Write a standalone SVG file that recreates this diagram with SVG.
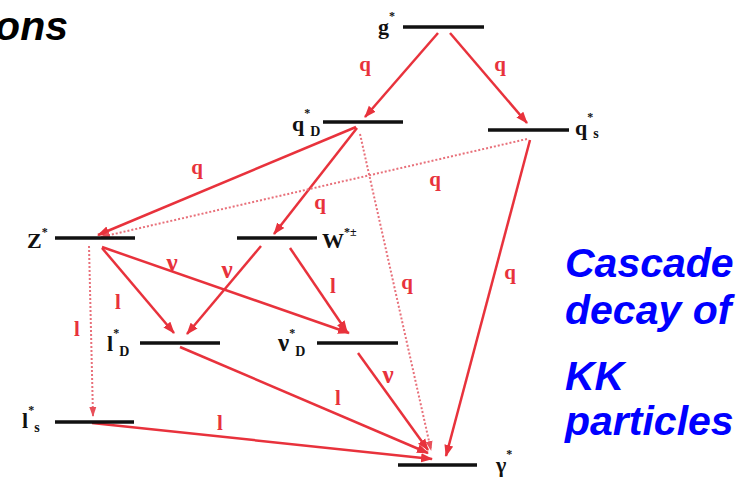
<svg xmlns="http://www.w3.org/2000/svg" width="754" height="481" viewBox="0 0 754 481">
<defs>
<marker id="ah" markerWidth="12" markerHeight="10" refX="11" refY="5" orient="auto" markerUnits="userSpaceOnUse"><path d="M0,0.5 L12,5 L0,9.5 z" fill="#e8323c"/></marker>
<marker id="ahd" markerWidth="10" markerHeight="8" refX="9" refY="4" orient="auto" markerUnits="userSpaceOnUse"><path d="M0,0.5 L10,4 L0,7.5 z" fill="#e8505a"/></marker>
</defs>
<style>
.lvl{stroke:#111;stroke-width:3.5}
.a{stroke:#e8323c;stroke-width:2.5;fill:none;marker-end:url(#ah)}
.d{stroke:#e8707a;stroke-width:2;stroke-dasharray:2 2;fill:none;marker-end:url(#ahd)}
.nl{font-family:"Liberation Serif",serif;font-weight:bold;font-size:22px;fill:#111}
.sup{font-size:12px}
.sub{font-size:14px}
.el{font-family:"Liberation Serif",serif;font-weight:bold;font-size:21px;fill:#e8323c;text-anchor:middle}
.nu{font-size:25px}
.t{font-family:"Liberation Sans",Arial,sans-serif;font-weight:bold;font-style:italic;font-size:41px}
</style>
<rect width="754" height="481" fill="#fff"/>
<text class="t" x="68" y="40" text-anchor="end" fill="#000">ons</text>
<g id="caption" class="t" fill="#0000ff">
<text x="565" y="277">Cascade</text>
<text x="565" y="324">decay of</text>
<text x="565" y="390">KK</text>
<text x="565" y="435">particles</text>
</g>
<g id="connectors">
<line class="a" x1="438" y1="33" x2="365" y2="117"/>
<line class="a" x1="450" y1="33" x2="527" y2="123"/>
<line class="a" x1="356" y1="127" x2="98" y2="235"/>
<line class="a" x1="357" y1="128" x2="274" y2="234"/>
<line class="a" x1="530" y1="140" x2="446" y2="456"/>
<line class="a" x1="102" y1="248" x2="174" y2="333"/>
<line class="a" x1="102" y1="247" x2="349" y2="333"/>
<line class="a" x1="261" y1="246" x2="187" y2="334"/>
<line class="a" x1="290" y1="248" x2="347" y2="332"/>
<line class="a" x1="180" y1="347" x2="428" y2="453"/>
<line class="a" x1="358" y1="353" x2="428" y2="450"/>
<line class="a" x1="92" y1="423" x2="432" y2="459"/>
<line class="d" x1="360" y1="134" x2="431" y2="450"/>
<line class="d" x1="527" y1="139" x2="101" y2="237"/>
<line class="d" x1="89" y1="246" x2="93" y2="416"/>
<g class="el">
<text x="365" y="71">q</text>
<text x="500" y="71">q</text>
<text x="197" y="174">q</text>
<text x="320" y="209">q</text>
<text x="435" y="186">q</text>
<text x="407" y="289">q</text>
<text x="510" y="279">q</text>
<text class="nu" x="172" y="271">ν</text>
<text class="nu" x="227" y="278">ν</text>
<text class="nu" x="388" y="383">ν</text>
<text x="333" y="293">l</text>
<text x="118" y="309">l</text>
<text x="77" y="336">l</text>
<text x="338" y="405">l</text>
<text x="220" y="430">l</text>
</g>
</g>
<g id="g-star"><line class="lvl" x1="403" y1="27" x2="484" y2="27"/><text class="nl" x="378" y="34">g<tspan class="sup" dy="-14">*</tspan></text></g>
<g id="qD-star"><line class="lvl" x1="323" y1="122" x2="403" y2="122"/><text class="nl" x="292" y="131">q<tspan class="sup" dy="-14">*</tspan><tspan class="sub" dy="19">D</tspan></text></g>
<g id="qS-star"><line class="lvl" x1="488" y1="130" x2="569" y2="130"/><text class="nl" x="575" y="135">q<tspan class="sup" dy="-14">*</tspan><tspan class="sub" dy="17">s</tspan></text></g>
<g id="Z-star"><line class="lvl" x1="55" y1="238" x2="135" y2="238"/><text class="nl" x="27" y="248">Z<tspan class="sup" dy="-12">*</tspan></text></g>
<g id="W-star"><line class="lvl" x1="237" y1="238" x2="317" y2="238"/><text class="nl" x="322" y="248">W<tspan class="sup" dy="-12">*±</tspan></text></g>
<g id="lD-star"><line class="lvl" x1="140" y1="343" x2="220" y2="343"/><text class="nl" x="107" y="351">l<tspan class="sup" dy="-14">*</tspan><tspan class="sub" dy="19">D</tspan></text></g>
<g id="nuD-star"><line class="lvl" x1="317" y1="343" x2="398" y2="343"/><text class="nl" x="278" y="351"><tspan font-size="25">ν</tspan><tspan class="sup" dy="-14">*</tspan><tspan class="sub" dy="19">D</tspan></text></g>
<g id="lS-star"><line class="lvl" x1="55" y1="422" x2="134" y2="422"/><text class="nl" x="22" y="428">l<tspan class="sup" dy="-14">*</tspan><tspan class="sub" dy="18">s</tspan></text></g>
<g id="gamma-star"><line class="lvl" x1="398" y1="465" x2="477" y2="465"/><text class="nl" x="496" y="472">γ<tspan class="sup" dy="-14">*</tspan></text></g>
</svg>
